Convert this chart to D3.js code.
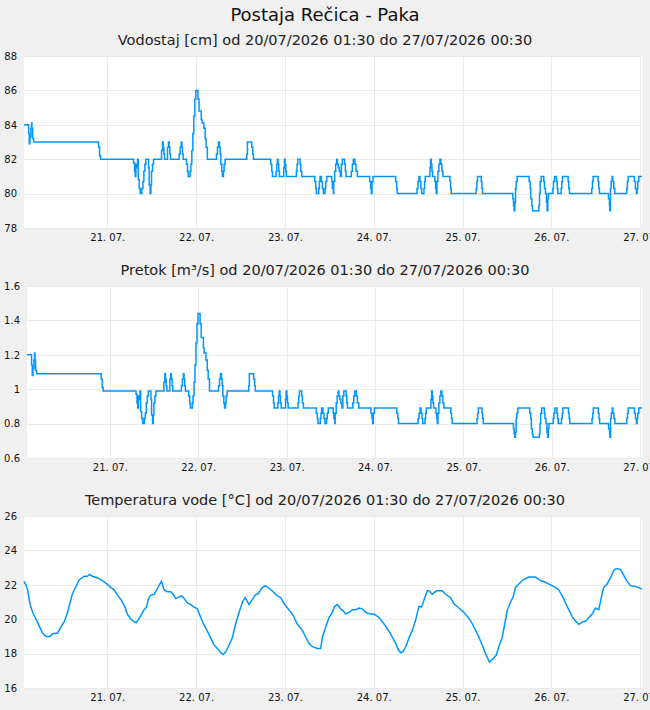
<!DOCTYPE html>
<html>
<head>
<meta charset="utf-8">
<script src="https://cdn.jsdelivr.net/npm/d3@7/dist/d3.min.js"></script>
<style>
  body { margin: 0; background: #f0f0f0; }
  svg text { font-family: "DejaVu Sans", sans-serif; fill: #111; }
</style>
</head>
<body>
<div id="chart"></div>
<script>
var stationName = "Postaja Rečica - Paka";
var periodStart = new Date(2026, 6, 20, 1, 30);
var periodEnd = new Date(2026, 6, 27, 0, 30);
var periodLabel = "od 20/07/2026 01:30 do 27/07/2026 00:30";

// [hours after periodStart, value] - step changes
var levelPoints = [
  [0,84],[1.25,83.5],[1.43,82.9],[1.61,83.3],[1.88,83.8],[2.06,84.1],[2.15,83.8],[2.33,83.2],[2.6,83],
  [20.15,82.7],[20.42,82.2],[20.69,82],
  [29.6,81.8],[29.87,81.3],[30.05,81],[30.23,81.7],[30.5,81.5],[30.68,82],[30.86,80.8],[31.13,80.3],[31.4,80],[31.85,80.3],[32.12,80.7],[32.39,81.3],[32.66,81.7],[32.93,82],[33.65,81.5],[33.83,80.5],[34.1,80],[34.28,80.5],[34.46,81.3],[34.73,81.7],[35.0,82],
  [37.16,82.5],[37.43,83],[37.61,82.7],[37.79,82.3],[37.97,82],[38.78,82.7],[39.05,83],[39.23,82.7],[39.41,82.3],[39.59,82],
  [41.93,82.3],[42.2,82.7],[42.47,83],[42.65,82.7],[42.83,82.3],[43.0,82],
  [43.91,81.7],[44.18,81.3],[44.36,81],[44.9,81.3],[45.08,81.7],[45.35,82.5],[45.62,83.5],[45.89,84.5],[46.16,85.5],[46.43,86],[47.0,85.5],[47.3,84.8],[47.9,84.3],[48.1,84.1],[48.6,83.8],[48.95,83.2],[49.2,82.7],[49.55,82],
  [52.01,82.3],[52.28,82.7],[52.55,83],[52.82,82.7],[53.0,82.3],[53.18,81.7],[53.45,81.3],[53.63,81],[53.9,81.3],[54.08,81.7],[54.35,82],
  [60.2,82.3],[60.38,83],[61.55,82.7],[61.82,82.3],[62.0,82],
  [66.68,81.7],[66.95,81.3],[67.13,81],[68.12,81.3],[68.3,81.7],[68.48,82],[68.66,81.7],[68.84,81.3],[69.02,81],
  [70.2,81.5],[70.37,82],[70.55,81.7],[70.73,81.3],[70.91,81],
  [73.6,81.3],[73.79,81.7],[73.97,82],[74.6,81.7],[74.78,81.3],[75.05,81],
  [78.56,80.7],[78.83,80.3],[79.01,80],[79.64,80.3],[79.82,80.7],[80.0,81],[80.36,80.7],[80.63,80.3],[80.9,80],[81.35,80.3],[81.53,80.7],[81.8,81],
  [83.15,80.7],[83.33,80.3],[83.6,80],[83.69,80.7],[83.96,81.3],[84.23,81.7],[84.5,82],[84.68,81.7],[84.95,81.5],[85.22,81.3],[85.49,81],[85.76,81.7],[86.03,82],[86.66,81.7],[86.84,81.3],[87.02,81],
  [88.46,81.3],[88.73,81.7],[89.0,82],[89.45,81.7],[89.72,81.3],[90.08,81],
  [93.41,80.7],[93.68,80.3],[93.86,80],[94.04,80.7],[94.31,81],
  [100.43,80.7],[100.7,80.3],[100.88,80],
  [106.19,80.3],[106.46,80.7],[106.73,81],[106.99,80.7],[107.26,80.3],[107.44,80],[108.07,80.3],[108.25,80.7],[108.43,81],
  [109.69,81.5],[109.87,82],[110.05,81.7],[110.23,81.3],[110.41,81],[111.04,80.7],[111.22,80.3],[111.4,80],[111.58,80.7],[111.85,81.3],[112.12,81.7],[112.39,82],[112.66,81.7],[112.93,81.3],[113.2,81],
  [115.09,80.7],[115.27,80.3],[115.45,80],
  [122.2,80.3],[122.38,80.7],[122.56,81],[123.55,80.7],[123.73,80.3],[123.91,80],
  [132.1,79.7],[132.28,79.3],[132.46,79],[132.64,79.5],[132.82,80.3],[133.0,80.7],[133.27,81],
  [136.51,80.7],[136.78,80.3],[136.96,79.7],[137.23,79.3],[137.41,79],[139.12,79.3],[139.3,80],[139.48,80.7],[139.75,81],
  [140.47,80.7],[140.65,80.3],[140.92,80],[141.19,79.5],[141.37,79],[141.55,79.7],[141.73,80],
  [142.9,80.3],[143.08,80.7],[143.35,81],[143.89,80.7],[144.07,80.3],[144.25,80],[145.15,80.3],[145.33,80.7],[145.51,81],
  [147.04,80.7],[147.22,80.3],[147.4,80],
  [153.43,80.3],[153.61,80.7],[153.79,81],[155.14,80.7],[155.32,80.3],[155.5,80],
  [157.93,79.7],[158.2,79.3],[158.29,79],[158.47,80.3],[158.65,80.7],[158.92,81],[159.1,80.7],[159.37,80.3],[159.64,80],
  [162.88,80.3],[163.06,80.7],[163.24,81],[164.95,80.7],[165.22,80.3],[165.49,80],[165.67,80.3],[165.85,80.7],[166.12,81],[167,81]
];

var flowPoints = [
  [0,1.2],[1.25,1.14],[1.43,1.08],[1.61,1.12],[1.88,1.17],[2.06,1.21],[2.15,1.17],[2.33,1.11],[2.6,1.09],
  [20.15,1.06],[20.42,1.01],[20.69,0.99],
  [29.6,0.97],[29.87,0.92],[30.05,0.89],[30.23,0.96],[30.5,0.94],[30.68,0.99],[30.86,0.87],[31.13,0.83],[31.4,0.8],[31.85,0.83],[32.12,0.86],[32.39,0.92],[32.66,0.96],[32.93,0.99],[33.65,0.94],[33.83,0.85],[34.1,0.8],[34.28,0.85],[34.46,0.92],[34.73,0.96],[35.0,0.99],
  [37.16,1.04],[37.43,1.09],[37.61,1.06],[37.79,1.02],[37.97,0.99],[38.78,1.06],[39.05,1.09],[39.23,1.06],[39.41,1.02],[39.59,0.99],
  [41.93,1.02],[42.2,1.06],[42.47,1.09],[42.65,1.06],[42.83,1.02],[43.0,0.99],
  [43.91,0.96],[44.18,0.92],[44.36,0.89],[44.9,0.92],[45.08,0.96],[45.35,1.04],[45.62,1.14],[45.89,1.27],[46.16,1.38],[46.43,1.44],[47.0,1.38],[47.3,1.30],[47.9,1.24],[48.1,1.21],[48.6,1.17],[48.95,1.11],[49.2,1.06],[49.55,0.99],
  [52.01,1.02],[52.28,1.06],[52.55,1.09],[52.82,1.06],[53.0,1.02],[53.18,0.96],[53.45,0.92],[53.63,0.89],[53.9,0.92],[54.08,0.96],[54.35,0.99],
  [60.2,1.02],[60.38,1.09],[61.55,1.06],[61.82,1.02],[62.0,0.99],
  [66.68,0.96],[66.95,0.92],[67.13,0.89],[68.12,0.92],[68.3,0.96],[68.48,0.99],[68.66,0.96],[68.84,0.92],[69.02,0.89],
  [70.2,0.94],[70.37,0.99],[70.55,0.96],[70.73,0.92],[70.91,0.89],
  [73.6,0.92],[73.79,0.96],[73.97,0.99],[74.6,0.96],[74.78,0.92],[75.05,0.89],
  [78.56,0.86],[78.83,0.83],[79.01,0.8],[79.64,0.83],[79.82,0.86],[80.0,0.89],[80.36,0.86],[80.63,0.83],[80.9,0.8],[81.35,0.83],[81.53,0.86],[81.8,0.89],
  [83.15,0.86],[83.33,0.83],[83.6,0.8],[83.69,0.86],[83.96,0.92],[84.23,0.96],[84.5,0.99],[84.68,0.96],[84.95,0.94],[85.22,0.92],[85.49,0.89],[85.76,0.96],[86.03,0.99],[86.66,0.96],[86.84,0.92],[87.02,0.89],
  [88.46,0.92],[88.73,0.96],[89.0,0.99],[89.45,0.96],[89.72,0.92],[90.08,0.89],
  [93.41,0.86],[93.68,0.83],[93.86,0.8],[94.04,0.86],[94.31,0.89],
  [100.43,0.86],[100.7,0.83],[100.88,0.8],
  [106.19,0.83],[106.46,0.86],[106.73,0.89],[106.99,0.86],[107.26,0.83],[107.44,0.8],[108.07,0.83],[108.25,0.86],[108.43,0.89],
  [109.69,0.94],[109.87,0.99],[110.05,0.96],[110.23,0.92],[110.41,0.89],[111.04,0.86],[111.22,0.83],[111.4,0.8],[111.58,0.86],[111.85,0.92],[112.12,0.96],[112.39,0.99],[112.66,0.96],[112.93,0.92],[113.2,0.89],
  [115.09,0.86],[115.27,0.83],[115.45,0.8],
  [122.2,0.83],[122.38,0.86],[122.56,0.89],[123.55,0.86],[123.73,0.83],[123.91,0.8],
  [132.1,0.77],[132.28,0.74],[132.46,0.72],[132.64,0.75],[132.82,0.83],[133.0,0.86],[133.27,0.89],
  [136.51,0.86],[136.78,0.83],[136.96,0.77],[137.23,0.74],[137.41,0.72],[139.12,0.74],[139.3,0.8],[139.48,0.86],[139.75,0.89],
  [140.47,0.86],[140.65,0.83],[140.92,0.8],[141.19,0.75],[141.37,0.72],[141.55,0.77],[141.73,0.8],
  [142.9,0.83],[143.08,0.86],[143.35,0.89],[143.89,0.86],[144.07,0.83],[144.25,0.8],[145.15,0.83],[145.33,0.86],[145.51,0.89],
  [147.04,0.86],[147.22,0.83],[147.4,0.8],
  [153.43,0.83],[153.61,0.86],[153.79,0.89],[155.14,0.86],[155.32,0.83],[155.5,0.8],
  [157.93,0.77],[158.2,0.74],[158.29,0.72],[158.47,0.83],[158.65,0.86],[158.92,0.89],[159.1,0.86],[159.37,0.83],[159.64,0.8],
  [162.88,0.83],[163.06,0.86],[163.24,0.89],[164.95,0.86],[165.22,0.83],[165.49,0.8],[165.67,0.83],[165.85,0.86],[166.12,0.89],[167,0.89]
];

var tempPoints = [
  [0,22.2],[0.5,22.0],[0.98,21.7],[1.6,20.9],[2.33,20.4],[3.23,20.0],[4.13,19.6],[5.03,19.2],[5.93,19.0],[7.01,19.0],
  [7.73,19.15],[9.08,19.2],[9.98,19.55],[10.88,19.85],[11.78,20.4],[12.5,21.0],[13.13,21.5],[14.03,21.9],[14.93,22.3],
  [16.28,22.5],[17.18,22.5],[17.7,22.6],[18.5,22.5],[19.86,22.4],[20.76,22.3],[22.1,22.1],[23.46,21.85],[24.36,21.7],
  [25.26,21.4],[26.16,21.15],[27.06,20.8],[27.96,20.3],[28.86,20.0],[29.76,19.85],[30.39,19.8],[31.56,20.2],[32.46,20.55],
  [33.09,20.7],[33.63,21.2],[34.26,21.4],[35.16,21.45],[36.06,21.8],[37.14,22.2],[37.86,21.7],[38.76,21.6],[39.66,21.6],
  [40.3,21.45],[41.01,21.2],[41.9,21.3],[42.55,21.35],[43.27,21.2],[44.17,20.95],[45.07,20.85],[45.97,20.7],[46.87,20.6],
  [47.77,20.1],[48.67,19.65],[49.57,19.3],[50.47,18.9],[51.37,18.5],[52.28,18.3],[53.18,18.05],[53.81,17.95],[54.53,18.1],
  [55.43,18.5],[56.33,18.95],[57.23,19.75],[58.13,20.4],[59.03,21.0],[59.75,21.25],[60.2,21.1],[60.83,20.85],[61.55,21.1],
  [62.45,21.4],[63.35,21.5],[64.25,21.8],[65.15,21.95],[66.23,21.8],[67.31,21.6],[68.21,21.4],[69.38,21.25],[70.28,20.9],
  [71.18,20.65],[72.53,20.3],[73.88,19.7],[75.23,19.35],[76.13,18.95],[77.03,18.6],[77.93,18.4],[79.28,18.3],[80.18,18.3],
  [80.63,18.95],[81.53,19.55],[82.43,20.1],[83.33,20.4],[83.96,20.75],[84.68,20.85],[85.58,20.6],[86.21,20.5],[86.93,20.3],
  [87.83,20.4],[88.73,20.55],[89.63,20.55],[90.53,20.65],[91.43,20.6],[92.33,20.4],[93.41,20.3],[94.58,20.3],[95.93,20.1],
  [96.83,19.85],[97.73,19.6],[98.63,19.3],[99.53,18.95],[100.43,18.6],[101.06,18.25],[101.78,18.05],[102.41,18.1],
  [103.13,18.4],[104.03,18.9],[104.93,19.35],[105.83,19.95],[106.55,20.6],[106.72,20.75],[107.44,20.7],[108.07,21.1],
  [108.97,21.65],[109.42,21.65],[110.32,21.45],[111.4,21.65],[113.02,21.65],[113.92,21.45],[115.27,21.25],[116.17,20.9],
  [117.52,20.65],[118.87,20.4],[120.22,20.05],[121.12,19.75],[122.02,19.35],[122.92,18.95],[123.82,18.5],[124.72,18.0],
  [125.8,17.5],[126.7,17.7],[127.6,17.9],[128.32,18.4],[129.22,18.95],[129.94,19.75],[130.57,20.5],[131.47,21.0],
  [132.19,21.3],[132.82,21.85],[133.72,22.05],[134.62,22.25],[135.52,22.35],[136.42,22.45],[138.22,22.45],[139.57,22.25],
  [140.92,22.15],[142.27,22.0],[143.62,21.85],[144.52,21.7],[145.6,21.3],[146.32,20.95],[147.22,20.55],[148.12,20.15],
  [149.02,19.9],[149.92,19.7],[151.0,19.85],[151.9,19.9],[152.62,20.1],[153.52,20.3],[154.42,20.65],[155.32,20.55],
  [156.04,21.3],[156.67,21.85],[157.57,22.05],[158.47,22.4],[159.37,22.85],[160.09,22.95],[161.17,22.9],[162.07,22.55],
  [162.97,22.2],[163.87,21.95],[165.22,21.9],[165.94,21.85],[167,21.75]
];

var levelTicks = [78, 80, 82, 84, 86, 88];
var flowTicks = [0.6, 0.8, 1, 1.2, 1.4, 1.6];
var tempTicks = [16, 18, 20, 22, 24, 26];

var width = 650, height = 710;
var plotRight = 642, plotHeight = 172;

var svg = d3.select("#chart").append("svg")
  .attr("width", width)
  .attr("height", height);

svg.append("text")
  .attr("x", width / 2)
  .attr("y", 21)
  .attr("text-anchor", "middle")
  .style("font-size", "18px")
  .text(stationName);

var panels = [
  { title: "Vodostaj [cm] " + periodLabel, points: levelPoints, ticks: levelTicks, top: 56, left: 24, step: true },
  { title: "Pretok [m³/s] " + periodLabel, points: flowPoints, ticks: flowTicks, top: 286, left: 27, step: true },
  { title: "Temperatura vode [°C] " + periodLabel, points: tempPoints, ticks: tempTicks, top: 516, left: 24, step: false }
];

panels.forEach(function(p) { drawPanel(svg, p); });

function toDate(h) {
  return new Date(periodStart.getTime() + h * 3600 * 1000);
}

function drawPanel(svg, p) {
  var bottom = p.top + plotHeight;

  var x = d3.scaleTime()
    .domain([periodStart, periodEnd])
    .range([p.left, plotRight]);

  var y = d3.scaleLinear()
    .domain(d3.extent(p.ticks))
    .range([bottom, p.top]);

  var days = d3.timeDay.range(d3.timeDay.ceil(periodStart), periodEnd);

  svg.append("text")
    .attr("x", width / 2)
    .attr("y", p.top - 11)
    .attr("text-anchor", "middle")
    .style("font-size", "14.5px")
    .style("fill", "#222")
    .text(p.title);

  svg.append("rect")
    .attr("x", p.left)
    .attr("y", p.top)
    .attr("width", plotRight - p.left)
    .attr("height", plotHeight)
    .attr("fill", "#fff");

  // grid
  var grid = svg.append("g").attr("class", "grid");
  grid.selectAll("line.h")
    .data(p.ticks)
    .enter().append("line")
      .attr("x1", p.left)
      .attr("x2", plotRight)
      .attr("y1", d => Math.round(y(d)) + 0.5)
      .attr("y2", d => Math.round(y(d)) + 0.5)
      .attr("stroke", "#ebebeb");
  grid.selectAll("line.v")
    .data(days)
    .enter().append("line")
      .attr("x1", d => Math.round(x(d)) + 0.5)
      .attr("x2", d => Math.round(x(d)) + 0.5)
      .attr("y1", p.top)
      .attr("y2", bottom)
      .attr("stroke", "#ebebeb");

  // axes (labels only)
  var yAxis = svg.append("g")
    .attr("transform", "translate(" + p.left + ",0)")
    .call(d3.axisLeft(y).tickValues(p.ticks).tickSize(0).tickPadding(7)
      .tickFormat(d => String(+d.toFixed(1))));
  yAxis.select(".domain").remove();
  yAxis.selectAll("text").style("font-size", "10px").attr("fill", "#111");

  var xAxis = svg.append("g")
    .attr("transform", "translate(0," + bottom + ")")
    .call(d3.axisBottom(x).tickValues(days).tickSize(0).tickPadding(6)
      .tickFormat(d3.timeFormat("%d. %m.")));
  xAxis.select(".domain").remove();
  xAxis.selectAll("text").style("font-size", "10px").attr("fill", "#111");

  var line = d3.line()
    .x(d => x(toDate(d[0])))
    .y(d => y(d[1]))
    .curve(p.step ? d3.curveStepAfter : d3.curveLinear);

  svg.append("path")
    .datum(p.points)
    .attr("d", line)
    .attr("fill", "none")
    .attr("stroke", "#0096ff")
    .attr("stroke-width", 1.5);
}
</script>
</body>
</html>
